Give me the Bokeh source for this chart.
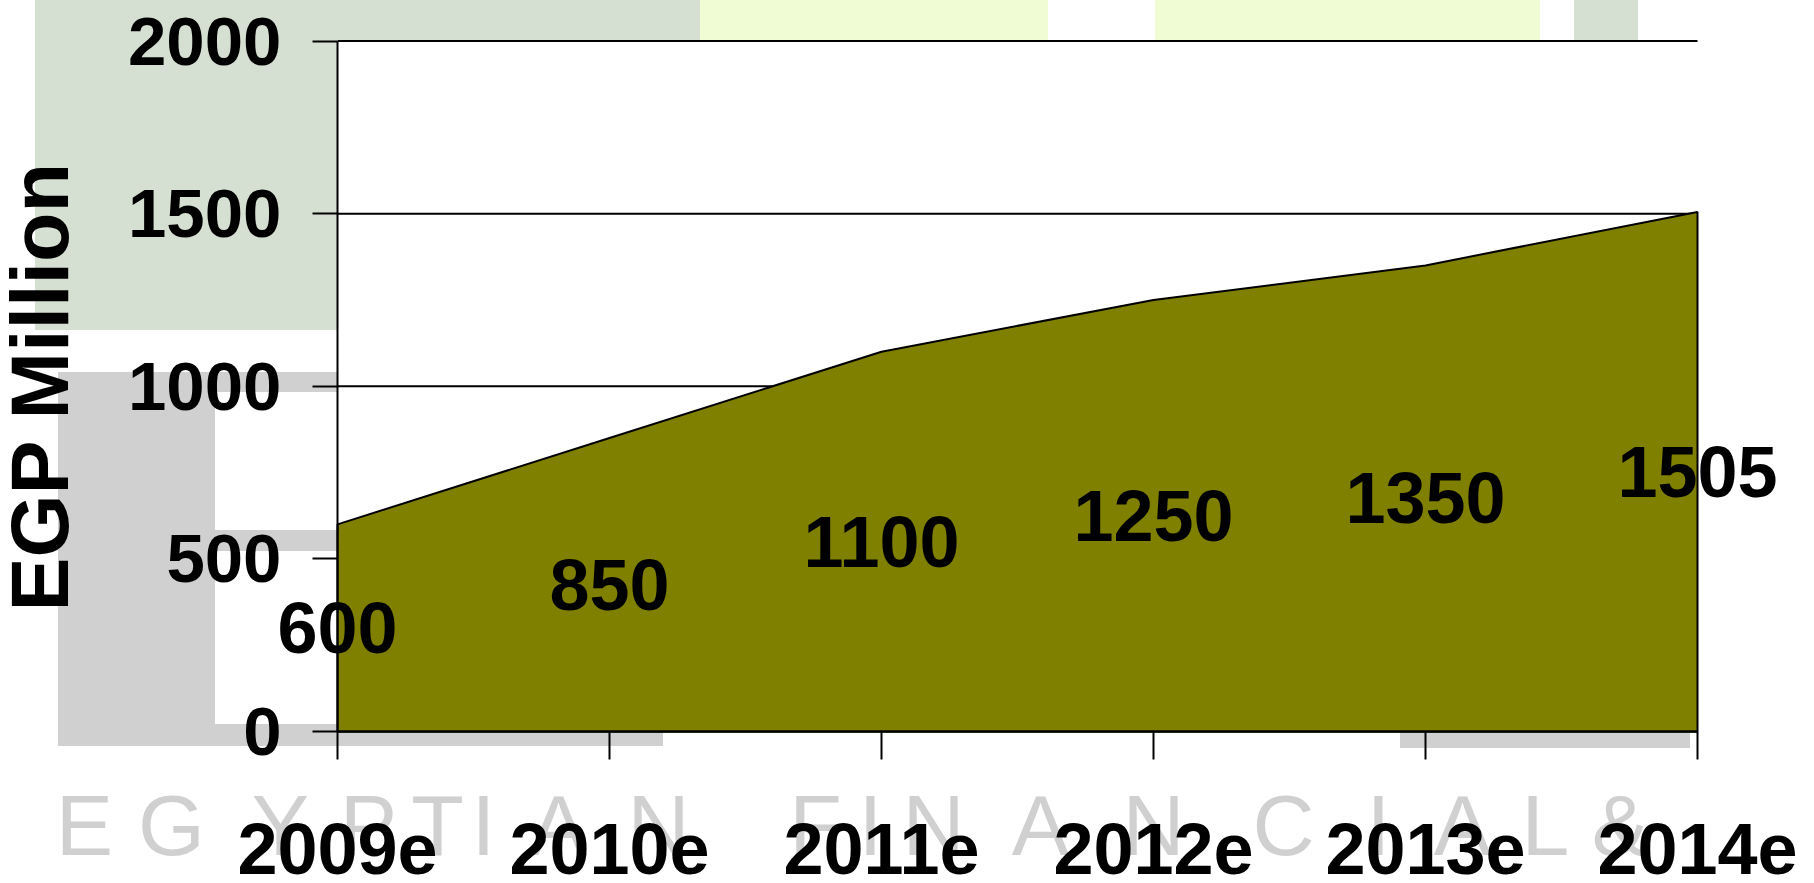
from bokeh.plotting import figure
from bokeh.models import Range1d, FixedTicker, Label
from bokeh.embed import file_html
from bokeh.resources import INLINE

# ---------------- data ----------------
categories = ["2009e", "2010e", "2011e", "2012e", "2013e", "2014e"]
values = [600, 850, 1100, 1250, 1350, 1505]
y_ticks = [0, 500, 1000, 1500, 2000]
y_title = "EGP Million"

# ---------------- layout (pixels) ----------------
W, H = 1814, 883
FILL = "#808000"
PL, PR, PT, PB = 337, 1697, 40.5, 731      # plot-area edges on the canvas

xs = list(range(len(categories)))
x_px = (PR - PL) / (xs[-1] - xs[0])
y_px = (PB - PT) / (y_ticks[-1] - y_ticks[0])
x_range = Range1d(xs[0] - PL / x_px, xs[-1] + (W - PR) / x_px)
y_range = Range1d(y_ticks[0] - (H - PB) / y_px, y_ticks[-1] + PT / y_px)

p = figure(width=W, height=H, x_range=x_range, y_range=y_range,
           output_backend="svg", toolbar_location=None,
           min_border_left=0, min_border_right=0, min_border_top=0,
           min_border_bottom=0)
p.background_fill_color = None
p.border_fill_color = None
p.outline_line_color = None

# ---------------- watermark background (CSS, decoration only) ----------------
GREEN = "#d6e0d2"
GRAY = "#d0d0d0"
YEL = "#effcd4"
boxes = [
    (1155, 0, 1240, 40, GREEN), (1574, 0, 1638, 40, GREEN),
    (35, 0, 337, 330, GREEN), (337, 0, 1048, 40, GREEN), (700, 0, 1048, 40, YEL),
    (1155, 0, 1540, 40, YEL),
    (58, 372, 215, 746, GRAY), (215, 372, 337, 392, GRAY),
    (215, 530, 337, 551, GRAY), (215, 724, 337, 746, GRAY),
    (337, 731, 663, 746, GRAY), (1400, 731, 1690, 748, GRAY),
    (PL, PT, PR, PB, "white"),
]
layers = []
for x0, y0, x1, y1, c in reversed(boxes):
    layers.append(f"linear-gradient({c},{c}) {x0}px {y0}px / {x1 - x0}px {y1 - y0}px no-repeat")
p.styles = {"background": ", ".join(layers) + ", white"}

# watermark lettering "EGYPTIAN FINANCIAL &" (letter centres in canvas px)
wm_text = "EGYPTIANFINANCIAL&"
wm_cx = [84, 171, 280, 368, 437, 483, 558, 658,
         815, 870, 933, 1040, 1153, 1283, 1378, 1462, 1545, 1620]
for ch, cx in zip(wm_text, wm_cx):
    p.add_layout(Label(x=cx, y=824, text=ch,
                       x_units="canvas", y_units="canvas",
                       text_align="center", text_baseline="middle",
                       text_font="Liberation Sans", text_font_size="86px",
                       text_color=GRAY, level="underlay"))

# ---------------- gridlines (only across the categories) ----------------
p.xgrid.visible = False
p.ygrid.visible = False
p.segment(x0=[xs[0]] * len(y_ticks), x1=[xs[-1]] * len(y_ticks),
          y0=y_ticks, y1=y_ticks, line_color="black", line_width=2)

# ---------------- area ----------------
px = xs + [xs[-1], xs[0]]
py = values + [0, 0]
p.patch(px, py, fill_color=FILL, line_color="black", line_width=2)

# data labels centred at half height
for x, v in zip(xs, values):
    p.add_layout(Label(x=x, y=v / 2, text=str(v), text_align="center",
                       text_baseline="middle", text_font="Liberation Sans",
                       text_font_style="bold", text_font_size="72px",
                       text_color="black"))

# ---------------- axes (pinned at the data origin) ----------------
for ax in (p.xaxis[0], p.yaxis[0]):
    ax.axis_line_color = "black"
    ax.axis_line_width = 2
    ax.major_tick_line_color = "black"
    ax.major_tick_line_width = 2
    ax.major_tick_in = 0
    ax.minor_tick_line_color = None
    ax.major_label_text_color = "black"
    ax.major_label_text_font = "Liberation Sans"
    ax.major_label_text_font_style = "bold"

ya = p.yaxis[0]
ya.fixed_location = xs[0]
ya.bounds = (y_ticks[0], y_ticks[-1])
ya.ticker = FixedTicker(ticks=y_ticks)
ya.major_tick_out = 25
ya.major_label_text_font_size = "69px"
ya.major_label_standoff = 31
ya.axis_label = y_title
ya.axis_label_text_font = "Liberation Sans"
ya.axis_label_text_font_style = "bold"
ya.axis_label_text_font_size = "81px"
ya.axis_label_text_color = "black"
ya.axis_label_standoff = 40

xa = p.xaxis[0]
xa.fixed_location = y_ticks[0]
xa.bounds = (xs[0], xs[-1])
xa.ticker = FixedTicker(ticks=xs)
xa.major_label_overrides = {i: c for i, c in zip(xs, categories)}
xa.major_tick_out = 28
xa.major_label_text_font_size = "72px"
xa.major_label_standoff = 64

open("out.html", "w").write(file_html(p, INLINE))
